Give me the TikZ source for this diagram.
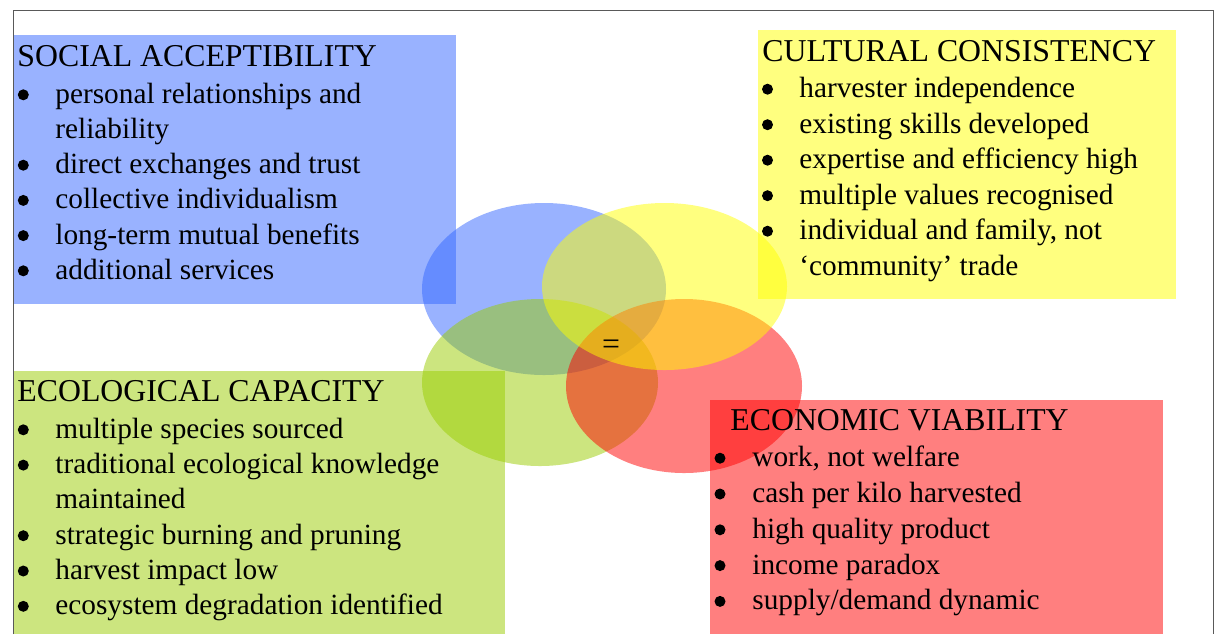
\documentclass[tikz,border=0pt]{standalone}
\usepackage{fontspec}
\setmainfont{Liberation Serif}
\newcommand{\Px}{0.5pt}
\definecolor{SocialBlue}{RGB}{51,102,255}
\definecolor{CultureYellow}{RGB}{255,255,0}
\definecolor{EcoGreen}{RGB}{153,204,0}
\definecolor{EconRed}{RGB}{255,0,0}
\tikzset{Box/.style={
    fill opacity=0.5,
    draw=none,
    }
}
\begin{document}
\begin{tikzpicture}[x=\Px, y=-\Px,
    Head/.style={inner sep=0pt, anchor=base west,
      font=\fontsize{15.9}{19}\selectfont},
    Item/.style={inner sep=0pt, anchor=base west,
      font=\fontsize{14.65}{17}\selectfont},
    Dot/.style={circle, fill=black, inner sep=0pt, minimum size={11*\Px}},
    Frame/.style={draw=black!65, line width=0.5pt},
]
\useasboundingbox (0,0) rectangle (1215,634);
% boxes
\fill[Box, SocialBlue] (13,35) rectangle (456,304);
\fill[Box, CultureYellow] (758,30) rectangle (1176,299);
\fill[Box, EcoGreen] (13,371) rectangle (505,634);
\fill[Box, EconRed] (710,400) rectangle (1163,634);
% the four ellipses
\fill[Box, SocialBlue] (544,289) ellipse [x radius=122, y radius=86];
\fill[Box, EcoGreen] (540,382.5) ellipse [x radius=118, y radius=83.5];
\fill[Box, EconRed] (684,386) ellipse [x radius=118, y radius=87];
\fill[Box, CultureYellow] (664.5,286.5) ellipse [x radius=122.5, y radius=83.5];
\node[font=\fontsize{15.9}{19}\selectfont, inner sep=0pt] (equals) at (611,347) {=};
% social acceptability
\node[Head] (socialT) at (17,66.7) {SOCIAL ACCEPTIBILITY};
\foreach \b/\t [count=\i from 0] in {1/personal relationships and, 0/reliability,
    1/direct exchanges and trust, 1/collective individualism,
    1/long-term mutual benefits, 1/additional services}{
  \node[Item] (social-\i) at (55,{103.3+35.2*\i}) {\t};
  \ifnum\b=1 \node[Dot] (social-dot-\i) at (23.3,{103.3+35.2*\i-8.5}) {}; \fi
}
% cultural consistency
\node[Head] (cultureT) at (762,61) {CULTURAL CONSISTENCY};
\foreach \b/\t [count=\i from 0] in {1/harvester independence,
    1/existing skills developed, 1/expertise and efficiency high,
    1/multiple values recognised, {1/individual and family, not},
    0/`community' trade}{
  \node[Item] (culture-\i) at (799,{97.7+35.5*\i}) {\t};
  \ifnum\b=1 \node[Dot] (culture-dot-\i) at (767.5,{97.7+35.5*\i-8.5}) {}; \fi
}
% ecological capacity
\node[Head] (ecoT) at (17,401.7) {ECOLOGICAL CAPACITY};
\foreach \b/\t [count=\i from 0] in {1/multiple species sourced,
    1/traditional ecological knowledge, 0/maintained,
    1/strategic burning and pruning, 1/harvest impact low,
    1/ecosystem degradation identified}{
  \node[Item] (eco-\i) at (55,{438.3+35.3*\i}) {\t};
  \ifnum\b=1 \node[Dot] (eco-dot-\i) at (23.3,{438.3+35.3*\i-8.5}) {}; \fi
}
% economic viability
\node[Head] (econT) at (730,430.7) {ECONOMIC VIABILITY};
\foreach \b/\t [count=\i from 0] in {{1/work, not welfare},
    1/cash per kilo harvested, 1/high quality product,
    1/income paradox, 1/{supply/demand dynamic}}{
  \node[Item] (econ-\i) at (752,{466.7+35.8*\i}) {\t};
  \ifnum\b=1 \node[Dot] (econ-dot-\i) at (720,{466.7+35.8*\i-8.5}) {}; \fi
}
% frame
\draw[Frame] (13,634) -- (13,10) -- (1213,10) -- (1213,634);
\end{tikzpicture}
\end{document}
